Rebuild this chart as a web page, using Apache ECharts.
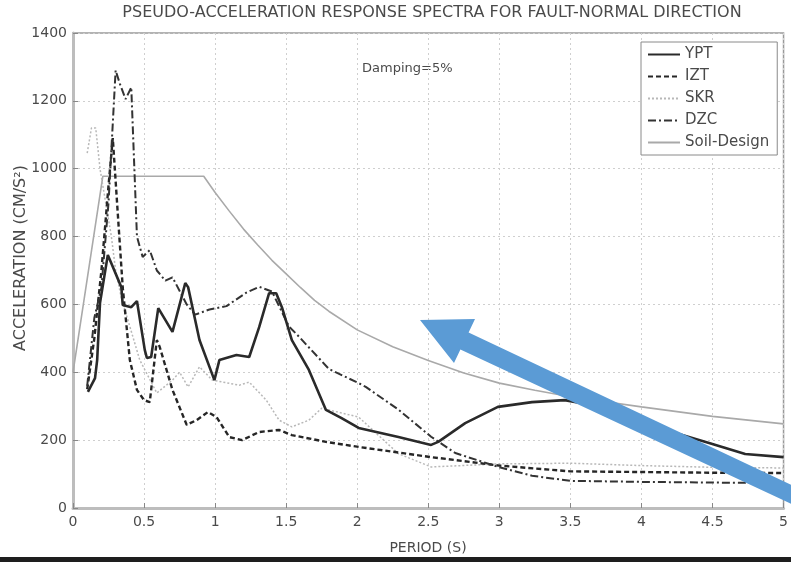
<!DOCTYPE html>
<html>
<head>
<meta charset="utf-8">
<script src="https://cdn.jsdelivr.net/npm/echarts@6/dist/echarts.min.js"></script>
<style>
  html, body { margin: 0; padding: 0; background: #fff; }
  #chart { width: 791px; height: 562px; }
</style>
</head>
<body>
<div id="chart"></div>
<script>
// Pseudo-acceleration response spectra, fault-normal direction, 5% damping.
// Each record is a list of [period (s), acceleration (cm/s^2)] pairs.
const periodTicks = [0, 0.5, 1, 1.5, 2, 2.5, 3, 3.5, 4, 4.5, 5];
const accelTicks = [0, 200, 400, 600, 800, 1000, 1200, 1400];

const YPT = [
  [0.105, 342], [0.155, 383], [0.17, 436], [0.19, 604], [0.245, 746], [0.26, 731],
  [0.34, 651], [0.35, 598], [0.41, 592], [0.45, 610], [0.505, 466], [0.52, 442],
  [0.55, 445], [0.6, 589], [0.7, 519], [0.79, 663], [0.81, 651], [0.89, 495],
  [0.995, 377], [1.03, 436], [1.15, 451], [1.24, 445], [1.31, 533], [1.38, 633],
  [1.43, 633], [1.47, 592], [1.54, 495], [1.66, 407], [1.78, 289], [1.89, 265],
  [2.01, 236], [2.29, 209], [2.52, 186], [2.57, 195], [2.76, 250], [2.99, 298],
  [3.23, 312], [3.46, 318], [3.7, 300], [3.88, 274], [4.24, 221], [4.47, 192],
  [4.73, 159], [5.0, 150]
];

const IZT = [
  [0.1, 350], [0.15, 500], [0.2, 700], [0.25, 950], [0.28, 1090], [0.31, 900],
  [0.35, 650], [0.4, 436], [0.45, 348], [0.5, 318], [0.54, 312], [0.59, 495],
  [0.61, 475], [0.7, 348], [0.8, 245], [0.87, 259], [0.95, 283], [1.01, 268],
  [1.1, 209], [1.19, 200], [1.31, 224], [1.45, 230], [1.54, 215], [1.78, 195],
  [2.01, 180], [2.52, 150], [3.0, 125], [3.5, 108], [4.0, 106], [4.5, 104], [5.0, 103]
];

const SKR = [
  [0.1, 1046], [0.13, 1120], [0.16, 1120], [0.19, 1000], [0.23, 900], [0.27, 800],
  [0.3, 700], [0.34, 620], [0.38, 563], [0.47, 436], [0.59, 339], [0.7, 377],
  [0.75, 400], [0.81, 357], [0.89, 416], [0.98, 377], [1.17, 362], [1.24, 371],
  [1.36, 318], [1.45, 259], [1.54, 239], [1.66, 259], [1.75, 294], [1.89, 280],
  [2.01, 268], [2.29, 160], [2.52, 121], [3.0, 130], [3.5, 132], [4.0, 125],
  [4.5, 120], [5.0, 118]
];

const DZC = [
  [0.1, 360], [0.15, 560], [0.2, 650], [0.25, 900], [0.3, 1290], [0.33, 1250],
  [0.37, 1205], [0.41, 1240], [0.45, 800], [0.49, 740], [0.54, 760], [0.59, 700],
  [0.65, 670], [0.7, 680], [0.8, 600], [0.86, 570], [0.96, 585], [1.08, 595],
  [1.22, 635], [1.31, 652], [1.4, 638], [1.52, 535], [1.59, 505], [1.8, 410],
  [2.01, 368], [2.06, 357], [2.29, 290], [2.52, 210], [2.69, 162], [3.0, 120],
  [3.23, 95], [3.5, 80], [4.0, 77], [4.5, 75], [5.0, 73]
];

const SOIL_DESIGN = [
  [0, 400], [0.21, 978], [0.92, 978], [1.0, 930], [1.1, 875], [1.2, 822],
  [1.3, 775], [1.4, 730], [1.5, 690], [1.6, 650], [1.7, 612], [1.8, 580],
  [2.0, 525], [2.25, 475], [2.5, 435], [2.75, 398], [3.0, 368], [3.25, 347],
  [3.5, 328], [4.0, 298], [4.5, 270], [5.0, 248]
];

const FONT = 'DejaVu Sans';
const TEXT = '#4a4a4a';

const chart = echarts.init(document.getElementById('chart'), null, { renderer: 'canvas' });

function lineSeries(name, data, style) {
  return {
    name: name,
    type: 'line',
    data: data,
    showSymbol: false,
    symbol: 'none',
    smooth: false,
    lineStyle: style,
    itemStyle: { color: style.color },
    z: style.z || 2
  };
}

chart.setOption({
  animation: false,
  backgroundColor: '#fff',
  grid: {
    left: 73, right: 4, top: 33, bottom: 54,
    show: true, borderColor: '#9a9a9a', borderWidth: 1.5
  },
  xAxis: {
    type: 'value', min: 0, max: 5, interval: 0.5,
    axisLine: { show: true, onZero: false, lineStyle: { color: '#bdbdbd', width: 3 } },
    axisTick: { show: true, inside: true, length: 5, lineStyle: { color: '#888' } },
    axisLabel: {
      color: TEXT, fontFamily: FONT, fontSize: 14, margin: 7,
      formatter: v => String(periodTicks.find(t => Math.abs(t - v) < 1e-6) ?? v)
    },
    splitLine: { show: true, lineStyle: { color: '#cfcfcf', type: [2, 3], width: 1 } }
  },
  yAxis: {
    type: 'value', min: 0, max: 1400, interval: 200,
    axisLine: { show: true, lineStyle: { color: '#bdbdbd', width: 3 } },
    axisTick: { show: true, inside: true, length: 5, lineStyle: { color: '#888' } },
    axisLabel: {
      color: TEXT, fontFamily: FONT, fontSize: 14, margin: 6,
      formatter: v => String(accelTicks.find(t => t === v) ?? v)
    },
    splitLine: { show: true, lineStyle: { color: '#cfcfcf', type: [2, 3], width: 1 } }
  },
  legend: {
    orient: 'vertical',
    left: 641, top: 42,
    itemWidth: 32, itemHeight: 14, itemGap: 7,
    padding: [5, 8, 5, 6],
    backgroundColor: '#fff',
    borderColor: '#8a8a8a', borderWidth: 1,
    itemStyle: { opacity: 0 },
    textStyle: { color: TEXT, fontFamily: FONT, fontSize: 15 },
    data: ['YPT', 'IZT', 'SKR', 'DZC', 'Soil-Design']
  },
  series: [
    lineSeries('Soil-Design', SOIL_DESIGN, { color: '#a9a9a9', width: 1.6, type: 'solid', z: 1 }),
    lineSeries('SKR', SKR, { color: '#b8b8b8', width: 1.5, type: [2, 2] }),
    lineSeries('IZT', IZT, { color: '#262626', width: 2.4, type: [5, 3] }),
    lineSeries('DZC', DZC, { color: '#333333', width: 2, type: [8, 3, 2, 3] }),
    lineSeries('YPT', YPT, { color: '#2a2a2a', width: 2.6, type: 'solid', z: 3 })
  ],
  graphic: [
    {
      type: 'text', x: 432, y: 13,
      style: {
        text: 'PSEUDO-ACCELERATION RESPONSE SPECTRA FOR FAULT-NORMAL DIRECTION',
        fill: TEXT, font: '16px "DejaVu Sans"', align: 'center', verticalAlign: 'middle'
      }
    },
    {
      type: 'text', x: 362, y: 62,
      style: { text: 'Damping=5%', fill: TEXT, font: '13px "DejaVu Sans"' }
    },
    {
      type: 'text', x: 21, y: 258, rotation: Math.PI / 2,
      style: {
        text: 'ACCELERATION (CM/S²)', fill: TEXT, font: '16px "DejaVu Sans"',
        align: 'center', verticalAlign: 'middle'
      }
    },
    {
      type: 'text', x: 428, y: 548,
      style: {
        text: 'PERIOD (S)', fill: TEXT, font: '14px "DejaVu Sans"',
        align: 'center', verticalAlign: 'middle'
      }
    },
    // annotation arrow pointing at the design curve
    {
      type: 'polygon', z: 100,
      shape: {
        points: [
          [420, 320], [475, 319], [468.6, 332.4], [810, 493.6],
          [810, 512.6], [460.4, 349.6], [454, 363]
        ]
      },
      style: { fill: '#5b9bd5' }
    },
    // dark border along the bottom edge
    {
      type: 'rect', z: 100,
      shape: { x: 0, y: 557, width: 791, height: 5 },
      style: { fill: '#1e1e1e' }
    }
  ]
});
</script>
</body>
</html>
